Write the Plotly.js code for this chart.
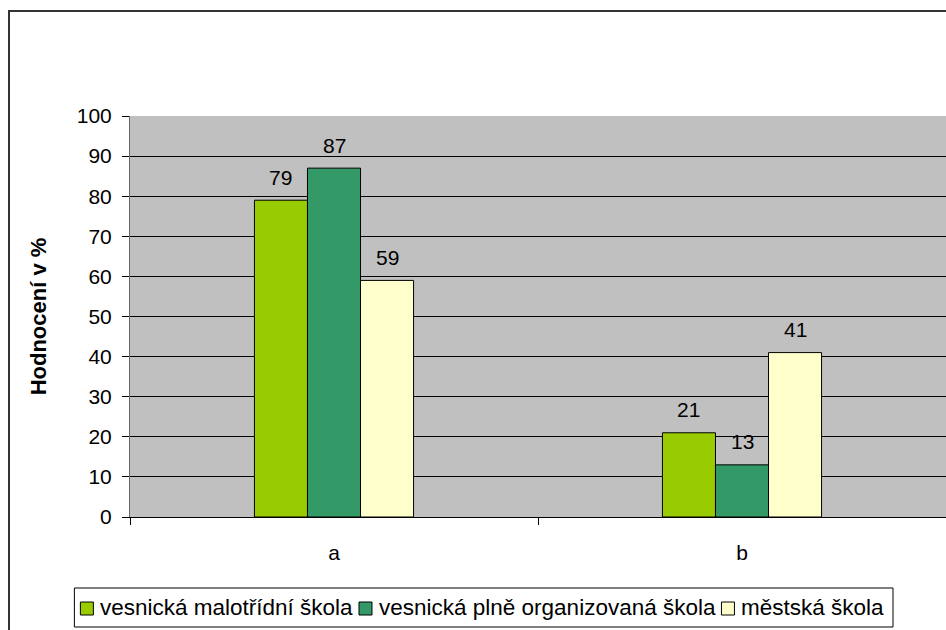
<!DOCTYPE html>
<html>
<head>
<meta charset="utf-8">
<script src="https://cdn.plot.ly/plotly-3.0.1.min.js"></script>
<style>
  html, body { margin: 0; padding: 0; width: 946px; height: 630px; overflow: hidden; background: #fff; }
  #frame { position: absolute; left: 8px; top: 10px; width: 1000px; height: 1000px; border: 2px solid #333; box-sizing: border-box; }
  #chart { position: absolute; left: 0; top: 0; width: 946px; height: 630px; }
</style>
</head>
<body>
<div id="frame"></div>
<div id="chart"></div>
<script>
const categories = ['a', 'b'];
const seriesNames = ['vesnická malotřídní škola', 'vesnická plně organizovaná škola', 'městská škola'];
const valsMalotridni = [79, 21];
const valsPlne = [87, 13];
const valsMestska = [59, 41];
const yTicks = [0, 10, 20, 30, 40, 50, 60, 70, 80, 90, 100];

const seriesValues = [valsMalotridni, valsPlne, valsMestska];
const colors = ['#99cc00', '#339966', '#ffffcc'];
const FONT = 'Liberation Sans, Arial, sans-serif';
const FS = 21;
const LFS = 22.5;

// plot geometry (pixels)
const L = 130, T = 116, W = 816, H = 401;
const px2x = p => (p - L) / W;
const px2y = p => (T + H - p) / H;

const traces = seriesValues.map((v, i) => ({
  type: 'bar',
  x: categories,
  y: v,
  name: seriesNames[i],
  marker: { color: colors[i], line: { color: '#000', width: 1 } },
  hoverinfo: 'none',
  showlegend: false
}));

const bargap = 0.61;
const catW = W / categories.length;
const barW = catW * (1 - bargap) / seriesValues.length;
const annotations = [];
seriesValues.forEach((v, i) => {
  v.forEach((val, j) => {
    annotations.push({
      x: categories[j], y: val, xref: 'x', yref: 'y',
      text: String(val), showarrow: false,
      xshift: (i - 1) * barW, yshift: 23, yanchor: 'middle',
      font: { family: FONT, size: FS, color: '#000' }
    });
  });
});

// manual legend (squares + text), measured with canvas
const ctx = document.createElement('canvas').getContext('2d');
ctx.font = LFS + 'px "Liberation Sans"';
const sq = 13, gapSqText = 6, gapTextSq = 7, padL = 6, padR = 10;
const legRight = 893, legTop = 588, legBottom = 627;
const textWidths = seriesNames.map(s => ctx.measureText(s).width);
let total = padL + padR;
textWidths.forEach((w, i) => { total += sq + gapSqText + w + (i < textWidths.length - 1 ? gapTextSq : 0); });
const legLeft = legRight - total;
const shapes = [{
  type: 'rect', xref: 'paper', yref: 'paper',
  x0: px2x(legLeft), x1: px2x(legRight), y0: px2y(legBottom), y1: px2y(legTop),
  line: { color: '#000', width: 1 }, fillcolor: '#fff', layer: 'above'
}];
const midY = (legTop + legBottom) / 2;
let cx = legLeft + padL;
seriesNames.forEach((name, i) => {
  shapes.push({
    type: 'rect', xref: 'paper', yref: 'paper',
    x0: px2x(cx), x1: px2x(cx + sq), y0: px2y(midY + sq / 2 + 1), y1: px2y(midY - sq / 2 + 1),
    line: { color: '#000', width: 1 }, fillcolor: colors[i], layer: 'above'
  });
  cx += sq + gapSqText;
  annotations.push({
    xref: 'paper', yref: 'paper', x: px2x(cx), y: px2y(midY),
    xanchor: 'left', yanchor: 'middle', text: name, showarrow: false,
    borderpad: 0, font: { family: FONT, size: LFS, color: '#000' }
  });
  cx += textWidths[i] + gapTextSq;
});

const layout = {
  width: 946, height: 630,
  margin: { l: L, r: 946 - L - W, t: T, b: 630 - T - H },
  paper_bgcolor: 'rgba(0,0,0,0)',
  plot_bgcolor: '#c0c0c0',
  barmode: 'group',
  bargap: bargap,
  bargroupgap: 0,
  font: { family: FONT, size: FS, color: '#000' },
  showlegend: false,
  xaxis: {
    type: 'category', showgrid: false, zeroline: false,
    showline: true, linecolor: '#000', linewidth: 1,
    ticks: 'outside', tickson: 'boundaries', ticklen: 7, tickcolor: '#000',
    ticklabelstandoff: 17,
    tickfont: { family: FONT, size: FS, color: '#000' },
    fixedrange: true
  },
  yaxis: {
    range: [0, 100], tickvals: yTicks, ticktext: yTicks.map(String),
    showgrid: true, gridcolor: '#000', gridwidth: 1,
    zeroline: false, showline: true, linecolor: '#666', linewidth: 1,
    ticks: 'outside', ticklen: 7, tickcolor: '#000',
    ticklabelstandoff: 6,
    tickfont: { family: FONT, size: FS, color: '#000' },
    title: { text: '<b>Hodnocení v %</b>', standoff: 24, font: { family: FONT, size: 22, color: '#000' } },
    automargin: false,
    fixedrange: true
  },
  annotations: annotations,
  shapes: shapes
};

Plotly.newPlot('chart', traces, layout, { displayModeBar: false, staticPlot: true });
</script>
</body>
</html>
